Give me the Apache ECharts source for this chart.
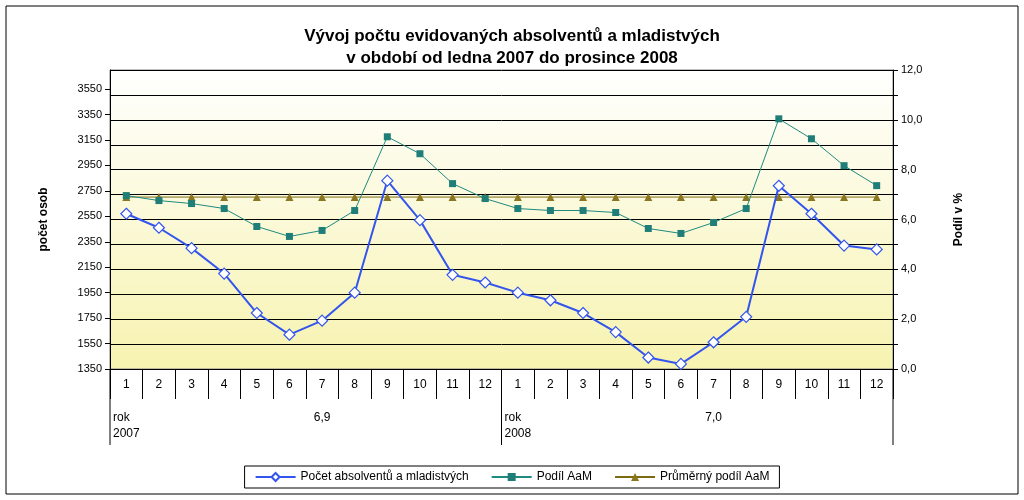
<!DOCTYPE html>
<html><head><meta charset="utf-8">
<script src="https://cdn.jsdelivr.net/npm/echarts@6/dist/echarts.min.js"></script>
<style>html,body{margin:0;padding:0;background:#fff}#c{width:1024px;height:500px}</style>
</head><body><div id="c"></div>
<script>
const months = ['1','2','3','4','5','6','7','8','9','10','11','12','1','2','3','4','5','6','7','8','9','10','11','12'];
const pocet = [2570,2460,2300,2100,1790,1620,1730,1950,2830,2520,2090,2030,1950,1890,1790,1640,1440,1390,1560,1760,2790,2570,2320,2290];
const podil = [6.96,6.76,6.64,6.44,5.72,5.32,5.56,6.36,9.32,8.64,7.44,6.84,6.44,6.36,6.36,6.28,5.64,5.44,5.88,6.44,10.04,9.24,8.16,7.36];
const prumer = [6.9,6.9,6.9,6.9,6.9,6.9,6.9,6.9,6.9,6.9,6.9,6.9,6.9,6.9,6.9,6.9,6.9,6.9,6.9,6.9,6.9,6.9,6.9,6.9];
const leftTicks = [1350,1550,1750,1950,2150,2350,2550,2750,2950,3150,3350,3550];
const yearLabels = ['rok\n2007','6,9','rok\n2008','7,0'];

const ch = echarts.init(document.getElementById('c'));
const L=110, R=893, T=70, B=369;
const cw=(R-L)/24;
const font='Arial, Liberation Sans, sans-serif';
const lines=[];
for(let i=0;i<=24;i++){ if(i===0||i===12||i===24) lines.push({type:'line',shape:{x1:L+i*cw,y1:B,x2:L+i*cw,y2:445},style:{stroke:'#000',lineWidth:1}}); }
ch.setOption({
  animation:false,
  textStyle:{fontFamily:font},
  title:{text:'Vývoj počtu evidovaných absolventů a mladistvých\nv období od ledna 2007 do prosince 2008',left:'center',top:20,
    textStyle:{fontSize:17,fontWeight:'bold',lineHeight:22,color:'#000',fontFamily:font}},
  grid:{left:L,right:1024-R,top:T,bottom:500-B,show:true,borderColor:'#808080',borderWidth:1,
    backgroundColor:new echarts.graphic.LinearGradient(0,0,0,1,[{offset:0,color:'#ffffff'},{offset:1,color:'#f7f3b0'}])},
  legend:{bottom:12,left:'center',itemGap:22,borderColor:'#000',borderWidth:1,padding:[5,10],
    textStyle:{fontSize:12,color:'#000'},itemWidth:40,itemHeight:10,
    data:['Počet absolventů a mladistvých','Podíl AaM','Průměrný podíl AaM']},
  xAxis:[{type:'category',data:months,boundaryGap:true,
    axisLine:{lineStyle:{color:'#000'}},axisTick:{show:true,alignWithLabel:false,length:30,lineStyle:{color:'#000'}},
    axisLabel:{color:'#000',fontSize:12,margin:10}}],
  yAxis:[{type:'value',min:1350,max:3700,
    name:'počet osob',nameLocation:'middle',nameGap:60,nameTextStyle:{fontWeight:'bold',fontSize:12,color:'#000'},
    axisLine:{show:true,lineStyle:{color:'#000'}},
    axisTick:{show:true,customValues:leftTicks,lineStyle:{color:'#000'}},
    axisLabel:{customValues:leftTicks,color:'#000',fontSize:11,formatter:v=>String(v)},splitLine:{show:false}},
   {type:'value',min:0,max:12,interval:1,position:'right',
    name:'Podíl v %',nameLocation:'middle',nameGap:60,nameRotate:90,nameTextStyle:{fontWeight:'bold',fontSize:12,color:'#000'},
    axisLine:{show:true,lineStyle:{color:'#000'}},axisTick:{show:true,lineStyle:{color:'#000'}},
    axisLabel:{color:'#000',fontSize:11,formatter:v=>v%2===0?v.toFixed(1).replace('.',','):''},
    splitLine:{show:true,lineStyle:{color:'#000',width:1}}}],
  series:[
   {name:'Počet absolventů a mladistvých',type:'line',yAxisIndex:0,data:pocet,symbol:'diamond',symbolSize:11,
    lineStyle:{color:'#3355ee',width:2},itemStyle:{color:'#fff',borderColor:'#3355ee',borderWidth:1.2},z:5},
   {name:'Podíl AaM',type:'line',yAxisIndex:1,data:podil,symbol:'rect',symbolSize:7,
    lineStyle:{color:'#1f8a80',width:1},itemStyle:{color:'#1f7f78'},z:4},
   {name:'Průměrný podíl AaM',type:'line',yAxisIndex:1,data:prumer,symbol:'triangle',symbolSize:8,
    lineStyle:{color:'#7a6a10',width:1},itemStyle:{color:'#8a7520'},z:3}
  ],
  graphic:[
   ...lines,
   {type:'rect',shape:{x:6,y:6,width:1012,height:488},style:{fill:null,stroke:'#000',lineWidth:1}},
   {type:'text',x:L+3,y:410,style:{text:yearLabels[0],fill:'#000',font:'12px '+font,lineHeight:16}},
   {type:'text',x:L+6.5*cw,y:412,style:{text:yearLabels[1],fill:'#000',font:'12px '+font,align:'center'}},
   {type:'text',x:L+12*cw+3,y:410,style:{text:yearLabels[2],fill:'#000',font:'12px '+font,lineHeight:16}},
   {type:'text',x:L+18.5*cw,y:412,style:{text:yearLabels[3],fill:'#000',font:'12px '+font,align:'center'}}
  ]
});
</script></body></html>
